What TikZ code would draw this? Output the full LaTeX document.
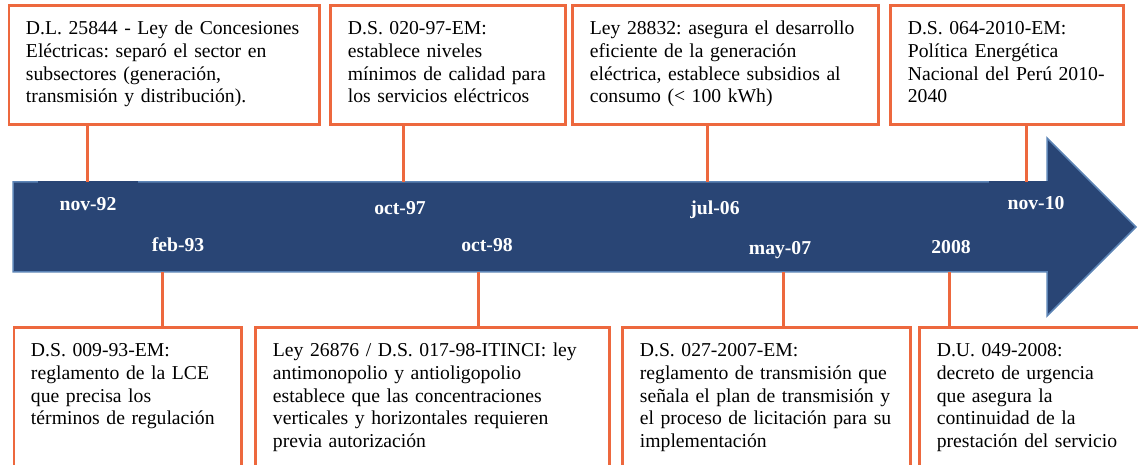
\documentclass[tikz,border=0pt]{standalone}
\usepackage{fontspec}
\setmainfont{Liberation Serif}
\usetikzlibrary{positioning}
\definecolor{naranja}{RGB}{237,104,62}
\definecolor{azul}{RGB}{41,69,117}
\definecolor{bordeazul}{RGB}{92,132,182}
\frenchspacing

\tikzset{
  hito/.style={draw=naranja, line width=0.06cm, fill=white, align=left, inner xsep=0.34cm, inner ysep=0.34cm, outer sep=0pt, text height=0.24cm, font=\fontsize{11.2pt}{12.9pt}\selectfont},
  arriba/.style={hito, text depth=1.46cm},
  abajo/.style={hito, text depth=1.88cm},
  fecha/.style={text=white, anchor=base, inner sep=0pt, font=\fontsize{11.2pt}{13pt}\selectfont\bfseries},
  conector/.style={draw=naranja, line width=0.06cm}
}

\begin{document}
\begin{tikzpicture}[x=0.02cm, y=-0.02cm]
    \useasboundingbox (0,0) rectangle (1138,465);
    \clip (0,0) rectangle (1138,465);

    % Timeline arrow
    \filldraw[fill=azul, draw=bordeazul, line width=0.03cm] (13,182) -- (1047,182) -- (1047,138) -- (1136,227) -- (1047,316) -- (1047,272) -- (13,272) -- cycle;

    % Dates on the arrow
    \node[fecha, fill=azul, minimum width=2.02cm, text height=0.6cm] (f1) at (88,211) {nov-92};
    \node[fecha] (f2) at (400,215) {oct-97};
    \node[fecha] (f3) at (715,215) {jul-06};
    \node[fecha, fill=azul, minimum width=1.9cm, text height=0.58cm] (f4) at (1036,210) {nov-10};
    \node[fecha] (g1) at (178,252) {feb-93};
    \node[fecha] (g2) at (487,252) {oct-98};
    \node[fecha] (g3) at (780,255) {may-07};
    \node[fecha] (g4) at (951,254) {2008};

    % Where the connectors meet the arrow
    \coordinate (t1) at (87,182);
    \coordinate (t2) at (403,182);
    \coordinate (t3) at (707,182);
    \coordinate (t4) at (1026,182);
    \coordinate (u1) at (162,272);
    \coordinate (u2) at (478,272);
    \coordinate (u3) at (783,272);
    \coordinate (u4) at (949,272);

    % Upper row
    \node (b1) [arriba, text width=5.54cm, anchor=north west] at (9,6) {D.L. 25844 - Ley de Concesiones\\ Eléctricas: separó el sector en\\ subsectores (generación,\\ transmisión y distribución).};
    \node (b2) [arriba, text width=4.02cm, right=0.22cm of b1] {D.S. 020-97-EM:\\ establece niveles\\ mínimos de calidad para\\ los servicios eléctricos};
    \node (b3) [arriba, text width=5.44cm, right=0.14cm of b2] {Ley 28832: asegura el desarrollo\\ eficiente de la generación\\ eléctrica, establece subsidios al\\ consumo (< 100 kWh)};
    \node (b4) [arriba, text width=3.98cm, right=0.24cm of b3] {D.S. 064-2010-EM:\\ Política Energética\\ Nacional del Perú 2010-\\ 2040};

    % Lower row
    \node (b5) [abajo, text width=3.88cm, anchor=north west] at (14,328) {D.S. 009-93-EM:\\ reglamento de la LCE\\ que precisa los\\ términos de regulación};
    \node (b6) [abajo, text width=6.40cm, right=0.28cm of b5] {Ley 26876 / D.S. 017-98-ITINCI: ley\\ antimonopolio y antioligopolio\\ establece que las concentraciones\\ verticales y horizontales requieren\\ previa autorización};
    \node (b7) [abajo, text width=5.08cm, right=0.26cm of b6] {D.S. 027-2007-EM:\\ reglamento de transmisión que\\ señala el plan de transmisión y\\ el proceso de licitación para su\\ implementación};
    \node (b8) [abajo, text width=3.92cm, right=0.18cm of b7] {D.U. 049-2008:\\ decreto de urgencia\\ que asegura la\\ continuidad de la\\ prestación del servicio};

    % Connectors
    \draw[conector] (b1.south -| t1) -- (t1);
    \draw[conector] (b2.south -| t2) -- (t2);
    \draw[conector] (b3.south -| t3) -- (t3);
    \draw[conector] (b4.south -| t4) -- (t4);
    \draw[conector] (b5.north -| u1) -- (u1);
    \draw[conector] (b6.north -| u2) -- (u2);
    \draw[conector] (b7.north -| u3) -- (u3);
    \draw[conector] (b8.north -| u4) -- (u4);
\end{tikzpicture}
\end{document}
